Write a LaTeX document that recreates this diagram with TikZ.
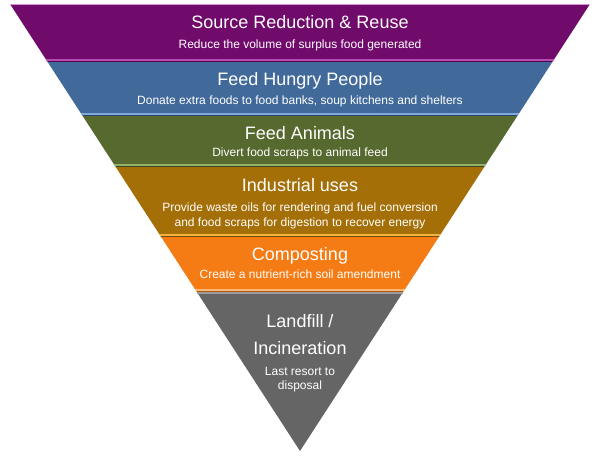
\documentclass[tikz,border=0pt]{standalone}
\usepackage{fontspec}
\setmainfont{Liberation Sans}

\definecolor{srcpurple}{RGB}{112,11,107}
\definecolor{srchl}{RGB}{182,74,176}
\definecolor{hungryblue}{RGB}{65,106,155}
\definecolor{hungryhl}{RGB}{128,168,218}
\definecolor{animalgreen}{RGB}{86,105,46}
\definecolor{animalhl}{RGB}{148,176,104}
\definecolor{industrybrown}{RGB}{165,111,8}
\definecolor{industryhl}{RGB}{243,181,64}
\definecolor{compostorange}{RGB}{245,123,20}
\definecolor{composthl}{RGB}{251,186,122}
\definecolor{landgray}{RGB}{101,101,101}
\definecolor{landhl}{RGB}{156,156,156}

\begin{document}
\begin{tikzpicture}[
    x=1pt, y=-1pt,
    title/.style={text=white, anchor=base, inner sep=0pt, font=\fontsize{18}{20}\selectfont},
    sub/.style={text=white, anchor=base, inner sep=0pt, font=\fontsize{12}{14}\selectfont}
  ]
    \useasboundingbox (0,0) rectangle (600,456);

    % Bands of the inverted pyramid, top to bottom
    \foreach \ya/\yb/\col/\hl in {4/62/srcpurple/srchl, 62/116/hungryblue/hungryhl,
        116/167/animalgreen/animalhl, 167/237/industrybrown/industryhl,
        237/292/compostorange/composthl}{
      \pgfmathsetmacro\wa{0.64877*(451-\ya)}
      \pgfmathsetmacro\wb{0.64877*(451-\yb)}
      \pgfmathsetmacro\wc{0.64877*(451-\yb+3)}
      \fill[\col] (300-\wa,\ya) -- (300+\wa,\ya) -- (300+\wb,\yb) -- (300-\wb,\yb) -- cycle;
      \fill[\hl] (300-\wc,\yb-3) -- (300+\wc,\yb-3) -- (300+\wb,\yb) -- (300-\wb,\yb) -- cycle;
      \draw[\col!70!black, line width=0.8pt] (300-\wb,\yb-0.4) -- (300+\wb,\yb-0.4);
    }
    \draw[srchl!60!white, line width=0.8pt] (10.4,4.4) -- (589.6,4.4);

    % Last band: the tip
    \pgfmathsetmacro\wg{0.64877*(451-292)}
    \fill[landgray] (300-\wg,292) -- (300+\wg,292) -- (300,451) -- cycle;
    \draw[landhl, line width=1.2pt] (300-\wg+0.6,293) -- (300+\wg-0.6,293);

    % Labels
    \node[title] (srcTitle) at (300,28) {Source Reduction \& Reuse};
    \node[sub] (srcSub) at (300,48) {Reduce the volume of surplus food generated};

    \node[title] (hungryTitle) at (300,85) {Feed Hungry People};
    \node[sub] (hungrySub) at (300,104) {Donate extra foods to food banks, soup kitchens and shelters};

    \node[title] (animalTitle) at (300,139) {Feed Animals};
    \node[sub] (animalSub) at (300,156) {Divert food scraps to animal feed};

    \node[title] (industryTitle) at (300,191) {Industrial uses};
    \node[sub] (industrySubA) at (300,211) {Provide waste oils for rendering and fuel conversion};
    \node[sub] (industrySubB) at (300,226) {and food scraps for digestion to recover energy};

    \node[title] (compostTitle) at (300,260) {Composting};
    \node[sub] (compostSub) at (300,278) {Create a nutrient-rich soil amendment};

    \node[title] (landTitleA) at (300,327) {Landfill /};
    \node[title] (landTitleB) at (300,354) {Incineration};
    \node[sub] (landSubA) at (300,375) {Last resort to};
    \node[sub] (landSubB) at (300,389) {disposal};
  \end{tikzpicture}
\end{document}
